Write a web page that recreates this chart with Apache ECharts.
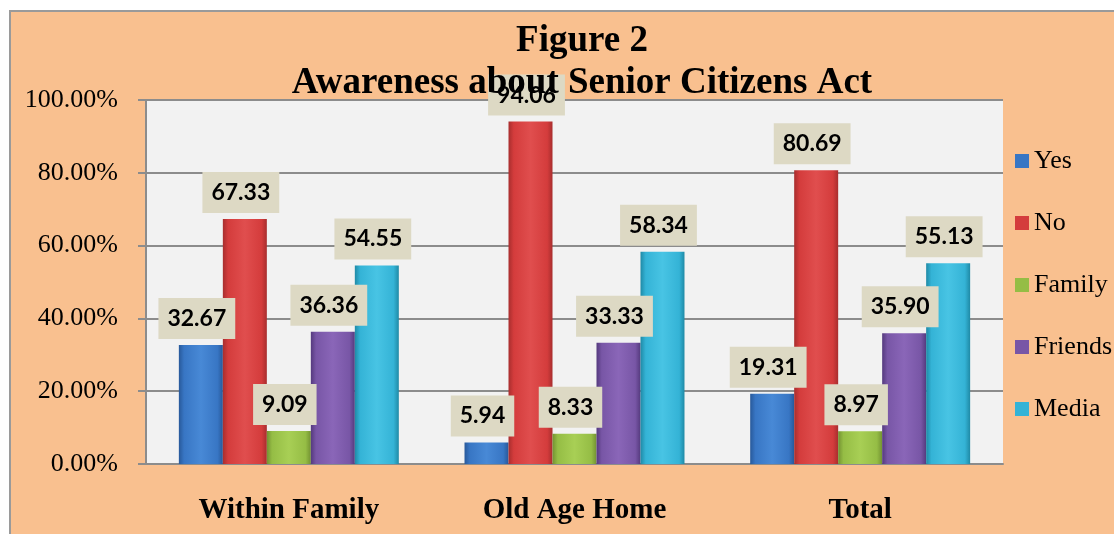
<!DOCTYPE html>
<html>
<head>
<meta charset="utf-8">
<script src="https://cdn.jsdelivr.net/npm/echarts@6/dist/echarts.min.js"></script>
<style>
  html, body { margin: 0; padding: 0; background: #fff; }
  #chart { width: 1114px; height: 534px; }
</style>
</head>
<body>
<div id="chart"></div>
<script>
var categories = ['Within Family', 'Old Age Home', 'Total']
var seriesNames = ['Yes', 'No', 'Family', 'Friends', 'Media']
var yes = [32.67, 5.94, 19.31]
var no = [67.33, 94.06, 80.69]
var family = [9.09, 8.33, 8.97]
var friends = [36.36, 33.33, 35.90]
var media = [54.55, 58.34, 55.13]
var values = [yes, no, family, friends, media]

var serif = "'Liberation Serif', 'Times New Roman', serif"

// dark edge, base, light
var colors = [
  ['#28599a', '#3876c4', '#4889d6'],
  ['#a82e2e', '#d43c3c', '#e04e4e'],
  ['#739232', '#95bd45', '#a8cf55'],
  ['#553a7e', '#7856a6', '#8a66b8'],
  ['#1f8aa6', '#34b3d6', '#48c4e4']
]

function barColor (c) {
  return new echarts.graphic.LinearGradient(0, 0, 1, 0, [
    { offset: 0, color: c[0] },
    { offset: 0.12, color: c[1] },
    { offset: 0.5, color: c[2] },
    { offset: 0.88, color: c[1] },
    { offset: 1, color: c[0] }
  ])
}

var series = []
for (var i = 0; i < seriesNames.length; i++) {
  series.push({
    name: seriesNames[i],
    type: 'bar',
    data: values[i],
    barGap: '0%',
    barCategoryGap: '23%',
    itemStyle: { color: barColor(colors[i]) },
    label: {
      show: true,
      position: 'top',
      distance: 6,
      offset: [-4, 0],
      formatter: function (p) { return p.value.toFixed(2) },
      backgroundColor: '#ddd9c4',
      padding: [8, 9],
      fontFamily: 'Lato',
      fontWeight: 'bold',
      fontSize: 23,
      lineHeight: 25,
      color: '#000'
    }
  })
}

var chart = echarts.init(document.getElementById('chart'))
chart.setOption({
  animation: false,
  graphic: [{
    type: 'rect',
    z: -10,
    shape: { x: 10, y: 11, width: 1120, height: 540 },
    style: { fill: '#f9c08f', stroke: '#9a9a9a', lineWidth: 2 }
  }],
  title: {
    text: 'Figure 2\nAwareness about Senior Citizens Act',
    left: 577,
    textAlign: 'center',
    top: 15,
    textStyle: {
      fontFamily: serif,
      fontWeight: 'bold',
      fontSize: 37,
      lineHeight: 42,
      color: '#000'
    }
  },
  legend: {
    orient: 'vertical',
    left: 1015,
    top: 148,
    padding: 0,
    itemWidth: 14,
    itemHeight: 14,
    itemGap: 36,
    icon: 'rect',
    data: seriesNames.map(function (n, i) {
      return { name: n, itemStyle: { color: colors[i][1] } }
    }),
    textStyle: { fontFamily: serif, fontSize: 26, color: '#000' }
  },
  grid: { left: 146, top: 100, right: 111, bottom: 70, show: true, backgroundColor: '#f2f2f2', borderWidth: 0 },
  xAxis: {
    type: 'category',
    data: categories,
    axisLine: { lineStyle: { color: '#8c8c8c', width: 2 } },
    axisTick: { show: false },
    axisLabel: {
      margin: 32,
      fontFamily: serif,
      fontWeight: 'bold',
      fontSize: 29,
      color: '#000'
    }
  },
  yAxis: {
    type: 'value',
    min: 0,
    max: 100,
    interval: 20,
    axisLine: { show: true, lineStyle: { color: '#8c8c8c', width: 2 } },
    axisTick: { show: true, length: 8, lineStyle: { color: '#8c8c8c', width: 2 } },
    splitLine: { lineStyle: { color: '#8c8c8c', width: 2 } },
    axisLabel: {
      margin: 28,
      formatter: function (v) { return v.toFixed(2) + '%' },
      fontFamily: serif,
      fontSize: 26,
      color: '#000'
    }
  },
  series: series
})
</script>
</body>
</html>
